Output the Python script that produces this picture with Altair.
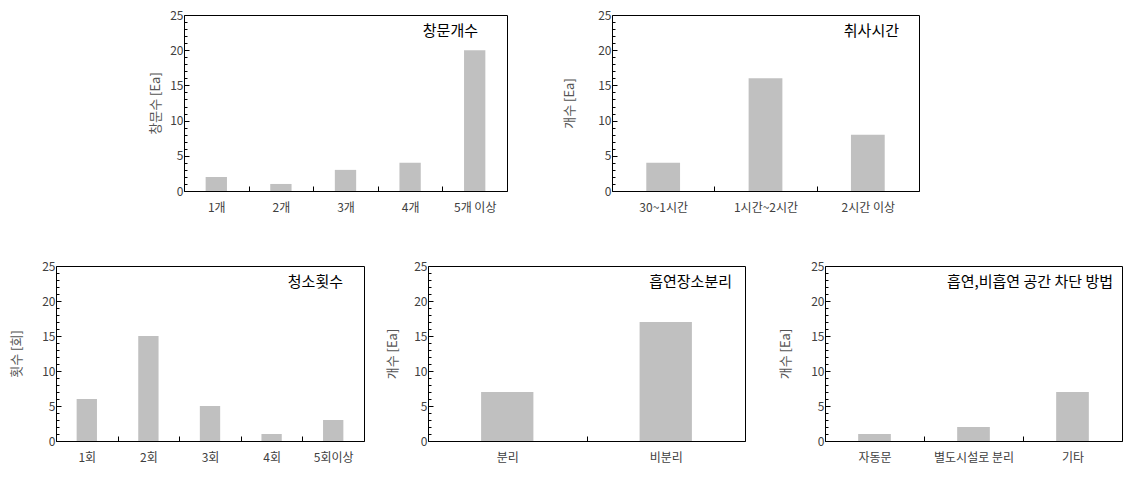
import altair as alt
import pandas as pd

FONT = "Noto Sans CJK KR"

# Panel data
p1_cats = ["1개", "2개", "3개", "4개", "5개 이상"]
p1_vals = [2, 1, 3, 4, 20]
p1_ytitle = "창문수 [Ea]"
p1_label = "창문개수"

p2_cats = ["30~1시간", "1시간~2시간", "2시간 이상"]
p2_vals = [4, 16, 8]
p2_ytitle = "개수 [Ea]"
p2_label = "취사시간"

p3_cats = ["1회", "2회", "3회", "4회", "5회이상"]
p3_vals = [6, 15, 5, 1, 3]
p3_ytitle = "횟수 [회]"
p3_label = "청소횟수"

p4_cats = ["분리", "비분리"]
p4_vals = [7, 17]
p4_ytitle = "개수 [Ea]"
p4_label = "흡연장소분리"

p5_cats = ["자동문", "별도시설로 분리", "기타"]
p5_vals = [1, 2, 7]
p5_ytitle = "개수 [Ea]"
p5_label = "흡연,비흡연 공간 차단 방법"

y_ticks = list(range(0, 26))


def panel(cats, vals, ytitle, label, w, h, title_pad, lab_dx):
    df = pd.DataFrame({"cat": cats, "val": vals})
    bars = alt.Chart(df).mark_bar(color="#c0c0c0", width=alt.RelativeBandSize(0.33)).encode(
        x=alt.X(
            "cat:N",
            sort=cats,
            title=None,
            scale=alt.Scale(paddingInner=0, paddingOuter=0),
            axis=alt.Axis(
                labelAngle=0,
                tickBand="extent",
                tickSize=5,
                offset=-5,
                domain=False,
                grid=False,
                labelPadding=11,
                tickColor="black",
                labelColor="#404040",
                labelFontSize=12,
                labelFont=FONT,
            ),
        ),
        y=alt.Y(
            "val:Q",
            title=ytitle,
            scale=alt.Scale(domain=[0, 25], nice=False),
            axis=alt.Axis(
                values=y_ticks,
                labelExpr="datum.value % 5 === 0 ? datum.label : ''",
                tickSize=alt.ExprRef(expr="datum.value % 5 === 0 ? -5 : -3"),
                domain=False,
                grid=False,
                labelPadding=6,
                tickColor="black",
                labelColor="#404040",
                labelFontSize=12,
                labelFont=FONT,
                titleFont=FONT,
                titleFontSize=13,
                titleFontWeight="normal",
                titleColor="#555555",
                titlePadding=title_pad,
            ),
        ),
    )
    txt = alt.Chart(pd.DataFrame({"t": [label]})).mark_text(
        align="right", baseline="middle", fontSize=15, font=FONT, color="black"
    ).encode(text="t:N", x=alt.value(w - lab_dx), y=alt.value(16))
    return alt.layer(bars, txt).properties(width=w, height=h)


def spacer(w):
    return alt.Chart(pd.DataFrame({"a": [0]})).mark_point(opacity=0).encode(
        x=alt.value(0), y=alt.value(0)
    ).properties(width=w, height=10, view=alt.ViewBackground(strokeOpacity=0))


c1 = panel(p1_cats, p1_vals, p1_ytitle, p1_label, 323, 176, 7, 29)
c2 = panel(p2_cats, p2_vals, p2_ytitle, p2_label, 307, 176, 21, 20)
c3 = panel(p3_cats, p3_vals, p3_ytitle, p3_label, 308, 175, 18, 21)
c4 = panel(p4_cats, p4_vals, p4_ytitle, p4_label, 317, 175, 14, 13)
c5 = panel(p5_cats, p5_vals, p5_ytitle, p5_label, 297, 175, 18, 9)

top = alt.hconcat(spacer(38), c1, c2, spacing=55)
bottom = alt.hconcat(c3, alt.hconcat(c4, c5, spacing=33), spacing=21)

chart = alt.vconcat(top, bottom, spacing=45).properties(
    padding={"left": 10, "top": 8, "right": 5, "bottom": 5},
    background="white",
).configure_view(stroke="black", strokeWidth=1).configure_concat(spacing=0)

chart.save("out.html", embed_options={"renderer": "svg", "actions": False})
